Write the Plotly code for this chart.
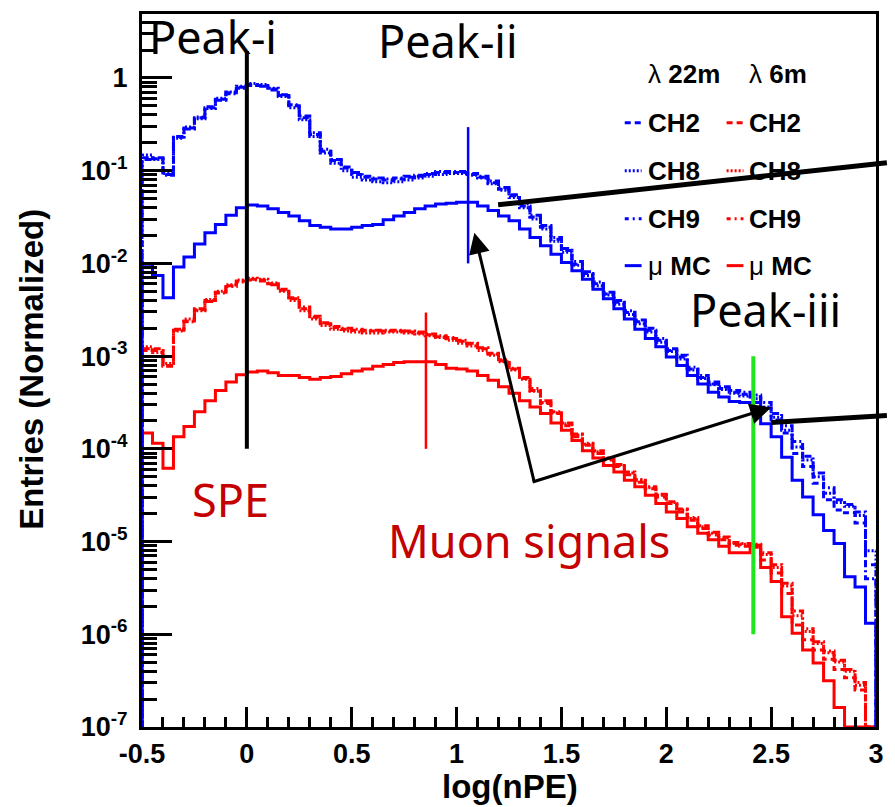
import numpy as np
import plotly.graph_objects as go

# ---------------------------------------------------------------------------
# Histogram binning of log10(nPE)
# ---------------------------------------------------------------------------
BIN_LOW = -0.5
BIN_WIDTH = 0.05
N_BINS = 70
Y_FLOOR_LOG = -7.0      # axis minimum (empty bins are drawn here)
Y_TOP_LOG = 0.69        # axis maximum

# log10 of normalized entries per bin; None = empty bin
# lambda = 22 m (blue)
LG22_CH2 = [-0.86, -0.87, -1.04, -0.64, -0.54, -0.43, -0.32, -0.23, -0.16, -0.10,
            -0.07, -0.08, -0.12, -0.19, -0.30, -0.43, -0.61, -0.79, -0.89, -0.97,
            -1.04, -1.07, -1.09, -1.10, -1.09, -1.07, -1.06, -1.04, -1.02, -1.02,
            -1.02, -1.04, -1.07, -1.13, -1.20, -1.27, -1.38, -1.50, -1.61, -1.74,
            -1.86, -2.01, -2.11, -2.22, -2.33, -2.42, -2.53, -2.63, -2.72, -2.83,
            -2.94, -3.01, -3.14, -3.23, -3.30, -3.35, -3.39, -3.41, -3.44, -3.56,
            -3.69, -3.83, -4.05, -4.19, -4.37, -4.55, -4.66, -4.69, -4.80, -5.25]
LG22_CH8 = [-0.83, -0.88, -1.03, -0.65, -0.53, -0.44, -0.33, -0.22, -0.15, -0.09,
            -0.06, -0.07, -0.11, -0.20, -0.32, -0.45, -0.63, -0.81, -0.92, -1.00,
            -1.07, -1.10, -1.12, -1.13, -1.12, -1.10, -1.08, -1.06, -1.04, -1.03,
            -1.03, -1.05, -1.08, -1.14, -1.21, -1.29, -1.40, -1.52, -1.63, -1.76,
            -1.88, -2.02, -2.13, -2.24, -2.34, -2.44, -2.55, -2.65, -2.74, -2.85,
            -2.95, -3.03, -3.15, -3.24, -3.31, -3.36, -3.40, -3.43, -3.46, -3.55,
            -3.66, -3.80, -3.98, -4.12, -4.30, -4.48, -4.58, -4.62, -4.72, -5.10]
LG22_CH9 = [-0.88, -0.86, -1.05, -0.63, -0.55, -0.42, -0.31, -0.24, -0.17, -0.11,
            -0.08, -0.09, -0.13, -0.18, -0.29, -0.41, -0.59, -0.77, -0.88, -0.96,
            -1.02, -1.06, -1.08, -1.09, -1.08, -1.06, -1.05, -1.03, -1.01, -1.01,
            -1.01, -1.03, -1.06, -1.11, -1.18, -1.26, -1.36, -1.48, -1.59, -1.72,
            -1.84, -1.98, -2.09, -2.20, -2.31, -2.40, -2.51, -2.61, -2.70, -2.81,
            -2.92, -2.99, -3.12, -3.21, -3.28, -3.33, -3.37, -3.39, -3.42, -3.50,
            -3.62, -3.75, -3.92, -4.08, -4.26, -4.42, -4.55, -4.60, -4.68, -5.40]
LG22_MC = [-2.01, -2.13, -2.37, -2.04, -1.93, -1.79, -1.67, -1.58, -1.48, -1.40,
           -1.37, -1.38, -1.41, -1.45, -1.49, -1.54, -1.59, -1.61, -1.63, -1.63,
           -1.61, -1.59, -1.58, -1.53, -1.49, -1.45, -1.41, -1.38, -1.36, -1.35,
           -1.34, -1.34, -1.38, -1.43, -1.49, -1.54, -1.63, -1.72, -1.81, -1.90,
           -1.99, -2.08, -2.17, -2.28, -2.38, -2.49, -2.60, -2.71, -2.81, -2.90,
           -3.01, -3.10, -3.21, -3.30, -3.39, -3.44, -3.49, -3.50, -3.50, -3.73,
           -3.87, -4.09, -4.34, -4.52, -4.71, -4.88, -5.02, -5.38, -5.49, -5.88]

# lambda = 6 m (red)
LG6_CH2 = [-2.92, -2.94, -3.10, -2.72, -2.62, -2.50, -2.40, -2.31, -2.24, -2.19,
           -2.17, -2.18, -2.22, -2.29, -2.38, -2.49, -2.58, -2.65, -2.69, -2.71,
           -2.72, -2.73, -2.73, -2.73, -2.73, -2.74, -2.75, -2.77, -2.79, -2.81,
           -2.84, -2.87, -2.92, -2.98, -3.05, -3.14, -3.24, -3.37, -3.51, -3.62,
           -3.75, -3.87, -3.96, -4.05, -4.12, -4.19, -4.28, -4.36, -4.43, -4.52,
           -4.59, -4.68, -4.77, -4.86, -4.93, -4.98, -5.04, -5.05, -5.06, -5.20,
           -5.34, -5.56, -5.90, -6.06, -6.17, -6.27, -6.38, -6.47, -6.60, None]
LG6_CH8 = [-2.90, -2.96, -3.08, -2.73, -2.60, -2.51, -2.39, -2.30, -2.23, -2.18,
           -2.16, -2.17, -2.21, -2.30, -2.40, -2.51, -2.60, -2.67, -2.71, -2.73,
           -2.74, -2.75, -2.75, -2.74, -2.74, -2.75, -2.76, -2.78, -2.80, -2.83,
           -2.86, -2.89, -2.94, -2.99, -3.06, -3.15, -3.25, -3.38, -3.50, -3.61,
           -3.73, -3.85, -3.95, -4.03, -4.11, -4.18, -4.26, -4.34, -4.42, -4.50,
           -4.58, -4.66, -4.75, -4.84, -4.91, -4.96, -5.02, -5.03, -5.04, -5.14,
           -5.28, -5.48, -5.80, -5.97, -6.10, -6.20, -6.30, -6.40, -6.55, None]
LG6_CH9 = [-2.94, -2.92, -3.11, -2.71, -2.63, -2.49, -2.41, -2.32, -2.25, -2.20,
           -2.18, -2.19, -2.23, -2.28, -2.37, -2.47, -2.57, -2.64, -2.68, -2.70,
           -2.71, -2.72, -2.72, -2.72, -2.72, -2.73, -2.74, -2.76, -2.78, -2.80,
           -2.83, -2.86, -2.91, -2.97, -3.04, -3.13, -3.23, -3.35, -3.48, -3.60,
           -3.72, -3.84, -3.94, -4.02, -4.10, -4.17, -4.25, -4.33, -4.41, -4.49,
           -4.57, -4.65, -4.74, -4.83, -4.90, -4.95, -5.01, -5.02, -5.03, -5.12,
           -5.25, -5.45, -5.75, -5.94, -6.08, -6.18, -6.28, -6.38, -6.52, None]
LG6_MC = [-3.83, -3.94, -4.21, -3.87, -3.76, -3.60, -3.48, -3.37, -3.28, -3.20,
          -3.17, -3.16, -3.18, -3.21, -3.21, -3.23, -3.25, -3.23, -3.22, -3.19,
          -3.16, -3.14, -3.11, -3.09, -3.07, -3.06, -3.06, -3.06, -3.09, -3.13,
          -3.14, -3.16, -3.21, -3.26, -3.33, -3.40, -3.48, -3.55, -3.62, -3.72,
          -3.80, -3.91, -4.02, -4.10, -4.18, -4.25, -4.34, -4.41, -4.50, -4.59,
          -4.68, -4.75, -4.84, -4.91, -4.98, -5.05, -5.12, -5.12, -5.04, -5.28,
          -5.43, -5.81, -5.99, -6.17, -6.31, -6.50, -6.79, None, None, None]

# Peak position markers: x, lower / upper log10 extent, colour, width
MARK_X = [0.0, 0.854, 1.055, 2.415]
MARK_LO = [-4.0, -4.0, -2.0, -6.0]
MARK_HI = [0.29, -2.53, -0.53, -3.0]
MARK_COLOR = ["black", "#ff0000", "#0000ff", "#1fe61f"]
MARK_WIDTH = [4, 2.5, 2.5, 4]

X_TICKS = [-0.5, 0, 0.5, 1, 1.5, 2, 2.5, 3]
X_TICK_TEXT = ["-0.5", "0", "0.5", "1", "1.5", "2", "2.5", "3"]
Y_DECADES = [-7, -6, -5, -4, -3, -2, -1, 0]
Y_TICK_TEXT = ["10<sup>-7</sup>", "10<sup>-6</sup>", "10<sup>-5</sup>", "10<sup>-4</sup>",
               "10<sup>-3</sup>", "10<sup>-2</sup>", "10<sup>-1</sup>", "1"]

BLUE, RED = "#0000ff", "#ff0000"
DASH_CH2 = "6px,4px"
DASH_CH8 = "2px,2px"
DASH_CH9 = "7px,3px,2px,3px"

# Canvas geometry
W, H = 895, 807
ML, MR, MT, MB = 142, 11, 13, 80
PW, PH = W - ML - MR, H - MT - MB


def px2x(px):
    return (px - ML) / PW


def py2y(py):
    return (H - MB - py) / PH


edges = BIN_LOW + BIN_WIDTH * np.arange(N_BINS + 1)


def step_trace(lg, color, dash, name):
    vals = [Y_FLOOR_LOG if v is None else v for v in lg]
    x = [edges[0]] + list(edges[:-1]) + [edges[-1], edges[-1]]
    y = [Y_FLOOR_LOG] + vals + [vals[-1], Y_FLOOR_LOG]
    return go.Scatter(x=x, y=np.power(10.0, y), mode="lines", line_shape="hv",
                      line=dict(color=color, width=3, dash=dash),
                      name=name, showlegend=False, hoverinfo="skip")


fig = go.Figure()
for lg, dash, nm in [(LG6_CH2, DASH_CH2, "CH2 6m"), (LG6_CH8, DASH_CH8, "CH8 6m"),
                     (LG6_CH9, DASH_CH9, "CH9 6m"), (LG6_MC, "solid", "MC 6m")]:
    fig.add_trace(step_trace(lg, RED, dash, nm))
for lg, dash, nm in [(LG22_CH2, DASH_CH2, "CH2 22m"), (LG22_CH8, DASH_CH8, "CH8 22m"),
                     (LG22_CH9, DASH_CH9, "CH9 22m"), (LG22_MC, "solid", "MC 22m")]:
    fig.add_trace(step_trace(lg, BLUE, dash, nm))

for mx, lo, hi, col, wd in zip(MARK_X, MARK_LO, MARK_HI, MARK_COLOR, MARK_WIDTH):
    fig.add_trace(go.Scatter(x=[mx, mx], y=[10 ** lo, 10 ** hi], mode="lines",
                             line=dict(color=col, width=wd), showlegend=False,
                             hoverinfo="skip"))

tick_font = dict(family="Liberation Sans, Arial", size=27, color="black", weight="bold")

y_minor = [k * 10.0 ** d for d in Y_DECADES for k in range(2, 10) if d < 0] + [2.0, 3.0, 4.0]
x_minor = [round(BIN_LOW + 0.1 * i, 2) for i in range(36) if i % 5 != 0]

fig.update_xaxes(range=[BIN_LOW, 3.0], tickmode="array", tickvals=X_TICKS,
                 ticktext=X_TICK_TEXT, ticks="inside", ticklen=20, tickwidth=3,
                 tickcolor="black", showline=True, linewidth=3, linecolor="black",
                 mirror=True, showgrid=False, zeroline=False, tickfont=tick_font,
                 ticklabelstandoff=1,
                 minor=dict(tickmode="array", tickvals=x_minor, ticks="inside",
                            ticklen=10, tickwidth=3, tickcolor="black", showgrid=False))
fig.update_yaxes(type="log", range=[Y_FLOOR_LOG, Y_TOP_LOG], tickmode="array",
                 tickvals=[10.0 ** d for d in Y_DECADES], ticktext=Y_TICK_TEXT,
                 ticks="inside", ticklen=30, tickwidth=3, tickcolor="black",
                 showline=True, linewidth=3, linecolor="black", mirror=True,
                 showgrid=False, zeroline=False, tickfont=tick_font,
                 ticklabelstandoff=6,
                 minor=dict(tickmode="array", tickvals=y_minor, ticks="inside",
                            ticklen=15, tickwidth=3, tickcolor="black", showgrid=False))

annotations = []
comic = "Comic Sans MS, Noto Sans"
for txt, cx, cy, col in [("Peak-i", 214, 36, "black"), ("Peak-ii", 451, 40, "black"),
                         ("Peak-iii", 772, 309, "black"), ("SPE", 231, 499, "#c40000"),
                         ("Muon signals", 533, 540, "#c40000")]:
    annotations.append(dict(text=txt, x=px2x(cx), y=py2y(cy), xref="paper", yref="paper",
                            xanchor="center", yanchor="middle", showarrow=False,
                            font=dict(family=comic, size=45, color=col)))

# axis titles
title_font = dict(family="Liberation Sans, Arial", size=33, color="black", weight="bold")
annotations.append(dict(text="log(nPE)", x=px2x(514), y=py2y(787), xref="paper",
                        yref="paper", xanchor="center", yanchor="middle",
                        showarrow=False, font=title_font))
annotations.append(dict(text="Entries (Normalized)", x=px2x(30), y=py2y(369),
                        xref="paper", yref="paper", xanchor="center", yanchor="middle",
                        textangle=-90, showarrow=False, font=title_font))

# callout arrows
for hx, hy, tx, ty in [(478, 232, 538, 482), (778, 407, 538, 482)]:
    annotations.append(dict(text="", x=px2x(hx), y=py2y(hy), xref="paper", yref="paper",
                            ax=tx - hx, ay=ty - hy, axref="pixel", ayref="pixel",
                            showarrow=True, arrowhead=2, arrowsize=1.4, arrowwidth=3,
                            arrowcolor="black", standoff=0, startstandoff=0))

# legend block
leg_font = dict(family="Liberation Sans, Arial", size=26, color="black")
col_sample = [(630, 647, BLUE), (733, 750, RED)]
col_text = [651, 754]
for cx, hdr in zip(col_text, ["λ <b>22m</b>", "λ <b>6m</b>"]):
    annotations.append(dict(text=hdr, x=px2x(cx), y=py2y(73), xref="paper", yref="paper",
                            xanchor="left", yanchor="middle", showarrow=False,
                            font=leg_font))
shapes = []
rows = [("<b>CH2</b>", DASH_CH2, 122), ("<b>CH8</b>", DASH_CH8, 170),
        ("<b>CH9</b>", "4px,4px,2px,4px", 218), ("μ <b>MC</b>", "solid", 265)]
for (s0, s1, col), tx in zip(col_sample, col_text):
    for lbl, dash, ry in rows:
        shapes.append(dict(type="line", xref="paper", yref="paper", x0=px2x(s0),
                           x1=px2x(s1), y0=py2y(ry), y1=py2y(ry),
                           line=dict(color=col, width=3, dash=dash)))
        annotations.append(dict(text=lbl, x=px2x(tx), y=py2y(ry), xref="paper",
                                yref="paper", xanchor="left", yanchor="middle",
                                showarrow=False, font=leg_font))

# thick callout lines running out of the frame
for x0, y0, x1, y1 in [(502, 204, 895, 162), (778, 422, 895, 415)]:
    shapes.append(dict(type="line", xref="paper", yref="paper", x0=px2x(x0), y0=py2y(y0),
                       x1=px2x(x1), y1=py2y(y1), line=dict(color="black", width=5)))

fig.update_layout(width=W, height=H, margin=dict(l=ML, r=MR, t=MT, b=MB),
                  plot_bgcolor="white", paper_bgcolor="white", showlegend=False,
                  annotations=annotations, shapes=shapes)

fig.write_html("out.html")
